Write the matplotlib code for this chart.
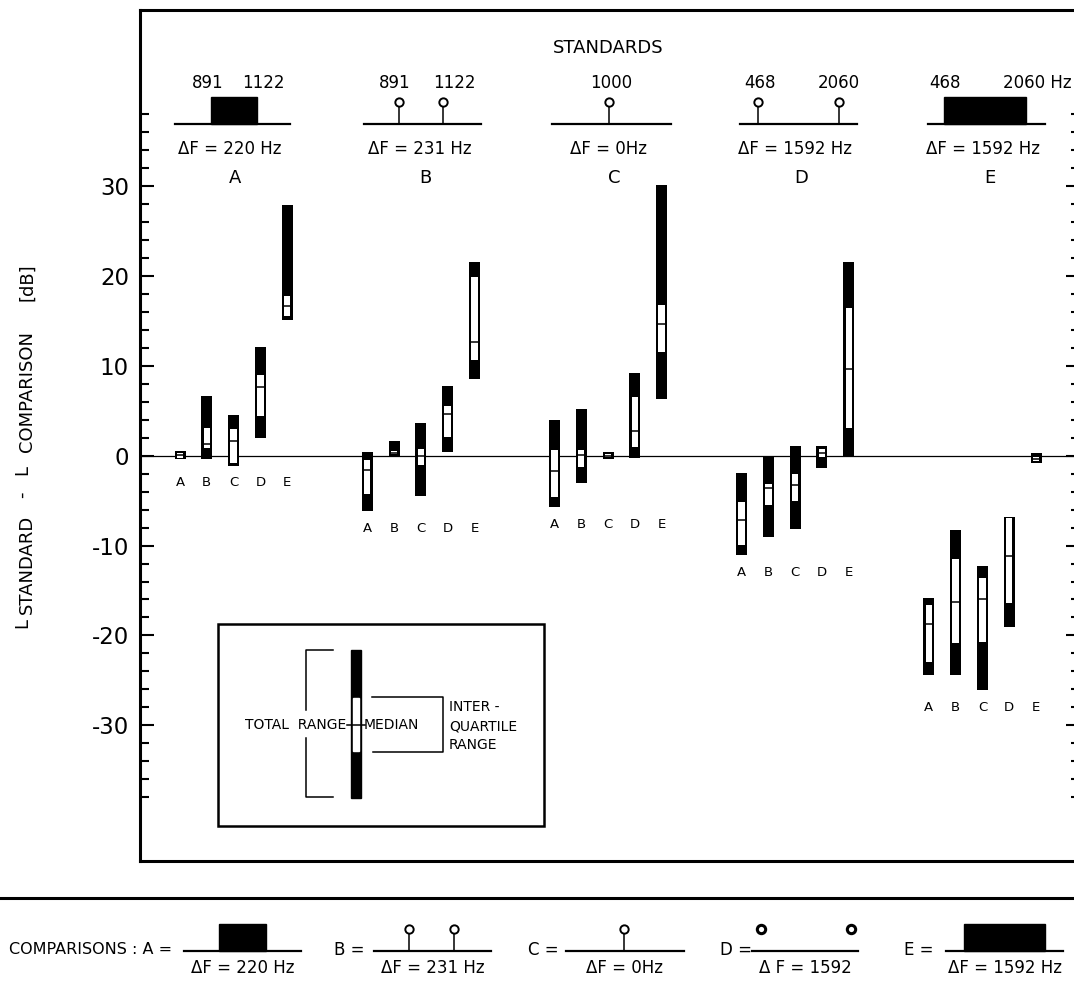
#!/usr/bin/env python3
# Loudness matching: L_standard - L_comparison, range / IQR / median bars

import matplotlib.pyplot as plt
from matplotlib.patches import Rectangle

plt.rcParams['font.family'] = ['DejaVu Sans']
plt.rcParams['axes.unicode_minus'] = False

# standards (groups) and comparison signals (bars inside each group)
std_labels = ['A', 'B', 'C', 'D', 'E']
cmp_labels = ['A', 'B', 'C', 'D', 'E']

# values in dB, one row per standard, one column per comparison
tot_max = [[0.5, 6.6, 4.5, 12.1, 27.9],
           [0.4, 1.6, 3.6, 7.75, 21.6],
           [4.0, 5.2, 0.4, 9.2, 30.1],
           [-1.9, 0.0, 1.1, 1.1, 21.6],
           [-15.8, -8.3, -12.3, -6.8, 0.3]]
q3 = [[0.35, 3.1, 3.0, 9.0, 17.8],
      [-0.5, 0.5, 0.8, 5.5, 19.9],
      [0.66, 0.66, 0.2, 6.5, 16.8],
      [-5.1, -3.1, -2.0, 0.7, 16.4],
      [-16.6, -11.5, -13.6, -6.9, -0.1]]
med = [[0.05, 1.3, 1.6, 7.6, 16.7],
       [-1.55, 0.3, 0.0, 4.65, 12.7],
       [-1.66, 0.1, 0.0, 2.7, 14.7],
       [-7.2, -3.6, -3.3, 0.3, 9.7],
       [-18.7, -16.3, -16.0, -11.2, -0.4]]
q1 = [[-0.25, 0.9, -0.8, 4.4, 15.6],
      [-4.3, 0.2, -1.0, 2.1, 10.6],
      [-4.6, -1.3, -0.15, 1.0, 11.5],
      [-9.9, -5.5, -5.0, -0.1, 3.1],
      [-23.0, -20.8, -20.7, -16.4, -0.6]]
tot_min = [[-0.4, -0.4, -1.1, 2.0, 15.1],
           [-6.2, 0.0, -4.5, 0.4, 8.5],
           [-5.7, -3.0, -0.4, -0.3, 6.3],
           [-11.1, -9.1, -8.1, -1.4, 0.0],
           [-24.4, -24.4, -26.1, -19.1, -0.85]]

yticks_major = [-30, -20, -10, 0, 10, 20, 30]

# header texts
std_freqs = [('891', '1122'), ('891', '1122'), ('1000',), ('468', '2060'), ('468', '2060 Hz')]
std_df = ['ΔF = 220 Hz', 'ΔF = 231 Hz', 'ΔF = 0Hz', 'ΔF = 1592 Hz', 'ΔF = 1592 Hz']
cmp_df = ['ΔF = 220 Hz', 'ΔF = 231 Hz', 'ΔF = 0Hz', 'Δ F = 1592', 'ΔF = 1592 Hz']

W, H = 1074, 989
fig = plt.figure(figsize=(W / 100, H / 100), dpi=100)

# main axes, x in pixel-like units
x_left, x_right, y_top, y_bot = 140, 1080, 10, 861
ax = fig.add_axes([x_left / W, (H - y_bot) / H, (x_right - x_left) / W, (y_bot - y_top) / H])
ax.set_xlim(x_left, x_right)
ax.set_ylim(-45.1, 49.6)

ax.axhline(0, color='black', lw=0.9, zorder=1)

g_step, c_step, x0 = 187.2, 26.8, 180
for g in range(len(std_labels)):
    xs = [x0 + g * g_step + i * c_step for i in range(len(cmp_labels))]
    lo = tot_min[g]
    hi = tot_max[g]
    ax.bar(xs, [h - l for h, l in zip(hi, lo)], bottom=lo, width=11,
           color='black', zorder=3)
    ax.bar(xs, [b - a for b, a in zip(q3[g], q1[g])], bottom=q1[g], width=6.5,
           color='white', zorder=4)
    ax.hlines(med[g], [x - 3.5 for x in xs], [x + 3.5 for x in xs],
              color='black', lw=1.1, zorder=5)
    ylab = min(lo) - 1.9
    for x, lab in zip(xs, cmp_labels):
        ax.text(x, ylab, lab, ha='center', va='center', fontsize=9.5)

ax.set_yticks(yticks_major)
ax.set_yticklabels([str(v) for v in yticks_major], fontsize=16.5)
ax.set_yticks([v for v in range(-38, 40, 2) if v % 10 != 0], minor=True)
ax.tick_params(axis='y', which='both', direction='in', right=True, width=1.5, pad=8)
ax.tick_params(axis='y', which='major', length=10)
ax.tick_params(axis='y', which='minor', length=6.5)
ax.set_xticks([])
for s in ['left', 'top', 'bottom']:
    ax.spines[s].set_linewidth(2.2)
ax.spines['right'].set_visible(False)

# overlay in figure pixels for the decorations
ov = fig.add_axes([0, 0, 1, 1], zorder=10)
ov.set_xlim(0, W)
ov.set_ylim(H, 0)
ov.axis('off')


def stem(x, y_base, y_top):
    ov.plot([x, x], [y_base, y_top], color='black', lw=1.1)
    ov.plot([x], [y_top], marker='o', ms=6, mfc='white', mec='black', mew=1.4)


def icon(kind, xl, xr, yb, marks):
    ov.plot([xl, xr], [yb, yb], color='black', lw=1.6)
    if kind == 'band':
        ov.add_patch(Rectangle((marks[0], yb - 27), marks[1] - marks[0], 27,
                               color='black'))
    elif kind == 'stem':
        for m in marks:
            stem(m, yb, yb - 22)
    elif kind == 'dots':
        for m in marks:
            ov.plot([m], [yb - 22], marker='o', ms=6, mfc='white', mec='black', mew=2.2)


ov.text(608, 48, 'STANDARDS', ha='center', va='center', fontsize=13)

hdr = [('band', 175, 290, (211, 257), [208, 263]),
       ('stem', 364, 481, (399, 443), [395, 454]),
       ('stem', 552, 671, (609,), [611]),
       ('stem', 740, 857, (758, 839), [760, 839]),
       ('band', 928, 1045, (944, 1026), [945, 1037])]
for (kind, xl, xr, marks, nx), freqs, df, lab in zip(hdr, std_freqs, std_df, std_labels):
    icon(kind, xl, xr, 124, marks)
    for x, f in zip(nx, freqs):
        ov.text(x, 83, f, ha='center', va='center', fontsize=12)
    ov.text((xl + xr) / 2 - 3, 149, df, ha='center', va='center', fontsize=12)
    ov.text((xl + xr) / 2 + 3, 178, lab, ha='center', va='center', fontsize=13)

# legend box
ov.add_patch(Rectangle((218, 624), 326, 202, fill=True, fc='white', ec='black', lw=1.8))
ov.add_patch(Rectangle((350.5, 650), 10.5, 148, color='black'))
ov.add_patch(Rectangle((353, 698), 5.5, 53, color='white'))
ov.plot([347, 365], [725, 725], color='black', lw=1.1)
ov.plot([333, 306, 306], [650, 650, 710], color='black', lw=1.1)
ov.plot([333, 306, 306], [797, 797, 738], color='black', lw=1.1)
ov.plot([372, 443, 443, 373], [697, 697, 752, 752], color='black', lw=1.1)
ov.text(245, 725, 'TOTAL  RANGE', ha='left', va='center', fontsize=10)
ov.text(364, 725, 'MEDIAN', ha='left', va='center', fontsize=10)
ov.text(449, 707, 'INTER -', ha='left', va='center', fontsize=10)
ov.text(449, 726, 'QUARTILE', ha='left', va='center', fontsize=10)
ov.text(449, 745, 'RANGE', ha='left', va='center', fontsize=10)

# y label, built from pieces so the subscripts sit lower
t = ov.text(22, 628, 'L', rotation=90, ha='center', va='bottom', fontsize=13)
for s, dx, gap in [('STANDARD', 3.6, 3), ('-', -3.6, 12), ('L', 0, 12),
                   ('COMPARISON', 3.6, 9), ('[dB]', 0, 22)]:
    t = ov.annotate(s, xy=(0.5, 1), xycoords=t, xytext=(dx, gap),
                    textcoords='offset points', rotation=90,
                    ha='center', va='bottom', fontsize=13)

# comparisons row
ov.plot([0, W], [898, 898], color='black', lw=2.2)
ov.text(172, 950, 'COMPARISONS : A =', ha='right', va='center', fontsize=11.5)
cmp_icons = [('band', 184, 301, (219, 266), None),
             ('stem', 374, 491, (409, 454), 349),
             ('stem', 566, 684, (624,), 543),
             ('dots', 752, 858, (761, 851), 736),
             ('band', 946, 1063, (964, 1045), 919)]
for (kind, xl, xr, marks, lx), df, lab in zip(cmp_icons, cmp_df, cmp_labels):
    icon(kind, xl, xr, 951, marks)
    ov.text((xl + xr) / 2, 968, df, ha='center', va='center', fontsize=12)
    if lx is not None:
        ov.text(lx, 950, lab + ' =', ha='center', va='center', fontsize=12)

fig.savefig('out.png', dpi=100)
